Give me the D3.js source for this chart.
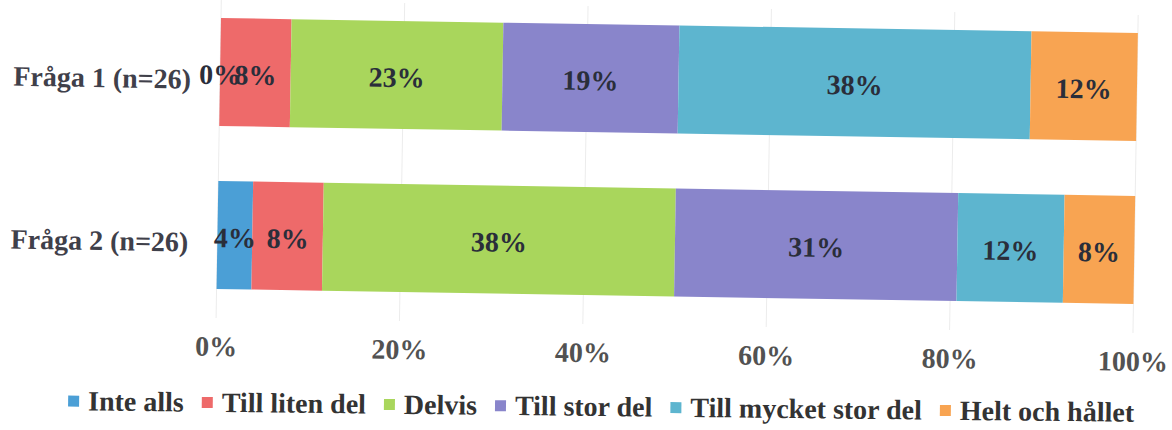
<!DOCTYPE html>
<html>
<head>
<meta charset="utf-8">
<script src="https://cdn.jsdelivr.net/npm/d3@7"></script>
<style>
  html, body { margin: 0; padding: 0; background: #ffffff; }
  svg { display: block; }
  text { font-family: "Liberation Serif", "DejaVu Serif", serif; font-weight: bold; }
</style>
</head>
<body>
<svg id="chart" width="1172" height="430"></svg>
<script>
// ---- data ----
const categories = ["Fråga 1 (n=26)", "Fråga 2 (n=26)"];
const seriesNames = ["Inte alls", "Till liten del", "Delvis", "Till stor del", "Till mycket stor del", "Helt och hållet"];
const fraga1Values = [0, 7.7, 23.1, 19.2, 38.4, 11.6];
const fraga2Values = [3.8, 7.7, 38.4, 30.8, 11.6, 7.7];
const seriesColors = ["#4b9fd6", "#ee6a6a", "#a9d65c", "#8985cb", "#5db5cf", "#f8a452"];
const tickValues = [0, 20, 40, 60, 80, 100];

const rows = [fraga1Values, fraga2Values];

const svg = d3.select("#chart");
const root = svg.append("g").attr("transform", "rotate(0.94 221 18)");

const x = d3.scaleLinear().domain([0, 100]).range([221, 1138]);
const y = d3.scaleBand().domain(categories).range([-9.5, 316.5])
  .paddingInner(0.3374).paddingOuter(0.1687);

// gridlines
root.append("g").selectAll("line").data(tickValues).join("line")
  .attr("x1", d => x(d)).attr("x2", d => x(d))
  .attr("y1", 0).attr("y2", 318)
  .attr("stroke", "#ececec").attr("stroke-width", 1);

// stacked bars
categories.forEach((cat, ci) => {
  const vals = rows[ci];
  let acc = 0;
  const segs = vals.map((v, i) => { const s = { i, v, x0: acc, x1: acc + v }; acc += v; return s; });
  const g = root.append("g");
  g.selectAll("rect").data(segs).join("rect")
    .attr("x", d => x(d.x0))
    .attr("width", d => x(d.x1) - x(d.x0))
    .attr("y", y(cat))
    .attr("height", y.bandwidth())
    .attr("fill", d => seriesColors[d.i]);
  g.selectAll("text").data(segs).join("text")
    .attr("x", d => (x(d.x0) + x(d.x1)) / 2)
    .attr("y", y(cat) + y.bandwidth() / 2 + 12)
    .attr("text-anchor", "middle")
    .attr("font-size", 28)
    .attr("fill", "#2a2e3a")
    .text(d => Math.round(d.v) + "%");
});

// category axis labels
root.append("g").selectAll("text").data(categories).join("text")
  .attr("x", 192)
  .attr("y", d => y(d) + y.bandwidth() / 2 + 17)
  .attr("text-anchor", "end")
  .attr("font-size", 28)
  .attr("fill", "#3f404a")
  .text(d => d);

// x axis
const xAxis = d3.axisBottom(x).tickValues(tickValues).tickFormat(d => d + "%").tickSize(0).tickPadding(3);
const ax = root.append("g").attr("transform", "translate(0,333)").call(xAxis);
ax.select(".domain").remove();
ax.selectAll("text")
  .attr("font-size", 28)
  .attr("font-family", "Liberation Serif, DejaVu Serif, serif")
  .attr("font-weight", "bold")
  .attr("fill", "#525252");

// legend
const legend = svg.append("g").attr("transform", "rotate(0.62 600 416)");
const items = legend.selectAll("g").data(seriesNames).join("g");
items.append("rect").attr("width", 11).attr("height", 11).attr("y", 416 - 14.7)
  .attr("fill", (d, i) => seriesColors[i]);
items.append("text").attr("x", 20).attr("y", 416)
  .attr("font-size", 28).attr("fill", "#333333").text(d => d);
const widths = [];
items.each(function () { widths.push(this.querySelector("text").getComputedTextLength()); });
const legendLeft = 68, legendRight = 1134;
const sumItems = widths.reduce((a, w) => a + 20 + w, 0);
const itemGap = (legendRight - legendLeft - sumItems) / (widths.length - 1);
let start = legendLeft;
items.attr("transform", (d, i) => {
  const t = "translate(" + start + ",0)";
  start += 20 + widths[i] + itemGap;
  return t;
});
</script>
</body>
</html>
